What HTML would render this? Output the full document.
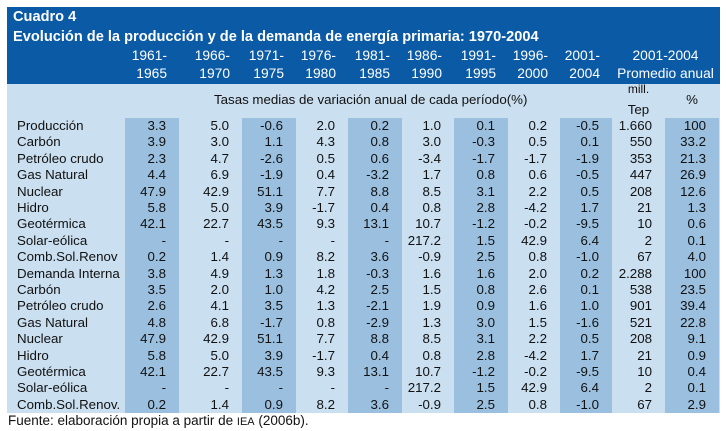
<!DOCTYPE html>
<html><head><meta charset="utf-8">
<style>
body{margin:0;width:726px;height:431px;background:#fff;position:relative;overflow:hidden;font-family:"Liberation Sans",sans-serif;}
.a{position:absolute;}
#hdr{left:7px;top:7px;width:713px;height:77px;background:#0b5aa6;}
#body{left:7px;top:84px;width:713px;height:329px;background:#cadff0;}
.band{position:absolute;top:118px;height:295px;background:#9bc0df;}
.t{position:absolute;color:#fff;font-weight:bold;font-size:14.6px;left:13px;}
.yh{position:absolute;color:#fff;font-size:13.8px;text-align:right;white-space:nowrap;}
.c{position:absolute;font-size:13.3px;color:#111;white-space:nowrap;line-height:16px;}
</style></head><body>
<div id="hdr" class="a"></div>
<div id="body" class="a"></div>
<div class="t" style="top:9px">Cuadro 4</div>
<div class="t" style="top:29px">Evolución de la producción y de la demanda de energía primaria: 1970-2004</div>
<div class="c" style="left:214px;top:92px">Tasas medias de variación anual de cada período(%)</div>
<div class="c" style="left:612px;width:53px;text-align:center;top:81px;font-size:12px">mill.</div>
<div class="c" style="left:612px;width:53px;text-align:center;top:102px">Tep</div>
<div class="c" style="left:665px;width:54px;text-align:center;top:92px">%</div>
<div class="a" id="tbl"></div>
<div class="c" style="left:8px;top:413px;font-size:13.5px">Fuente: elaboración propia a partir de <span style="font-size:11px">IEA</span> (2006b).</div>
<script>
const colEdges=[125,179,242,296,348,402,454,508,560,612,665,719];
const shaded=[0,2,4,6,8,10];
const periodsTop=["1961-","1966-","1971-","1976-","1981-","1986-","1991-","1996-","2001-"];
const periodsBot=["1965","1970","1975","1980","1985","1990","1995","2000","2004"];
const rowLabels=["Producción","Carbón","Petróleo crudo","Gas Natural","Nuclear","Hidro","Geotérmica","Solar-eólica","Comb.Sol.Renov","Demanda Interna","Carbón","Petróleo crudo","Gas Natural","Nuclear","Hidro","Geotérmica","Solar-eólica","Comb.Sol.Renov."];
const values=[
["3.3","5.0","-0.6","2.0","0.2","1.0","0.1","0.2","-0.5","1.660","100"],
["3.9","3.0","1.1","4.3","0.8","3.0","-0.3","0.5","0.1","550","33.2"],
["2.3","4.7","-2.6","0.5","0.6","-3.4","-1.7","-1.7","-1.9","353","21.3"],
["4.4","6.9","-1.9","0.4","-3.2","1.7","0.8","0.6","-0.5","447","26.9"],
["47.9","42.9","51.1","7.7","8.8","8.5","3.1","2.2","0.5","208","12.6"],
["5.8","5.0","3.9","-1.7","0.4","0.8","2.8","-4.2","1.7","21","1.3"],
["42.1","22.7","43.5","9.3","13.1","10.7","-1.2","-0.2","-9.5","10","0.6"],
["-","-","-","-","-","217.2","1.5","42.9","6.4","2","0.1"],
["0.2","1.4","0.9","8.2","3.6","-0.9","2.5","0.8","-1.0","67","4.0"],
["3.8","4.9","1.3","1.8","-0.3","1.6","1.6","2.0","0.2","2.288","100"],
["3.5","2.0","1.0","4.2","2.5","1.5","0.8","2.6","0.1","538","23.5"],
["2.6","4.1","3.5","1.3","-2.1","1.9","0.9","1.6","1.0","901","39.4"],
["4.8","6.8","-1.7","0.8","-2.9","1.3","3.0","1.5","-1.6","521","22.8"],
["47.9","42.9","51.1","7.7","8.8","8.5","3.1","2.2","0.5","208","9.1"],
["5.8","5.0","3.9","-1.7","0.4","0.8","2.8","-4.2","1.7","21","0.9"],
["42.1","22.7","43.5","9.3","13.1","10.7","-1.2","-0.2","-9.5","10","0.4"],
["-","-","-","-","-","217.2","1.5","42.9","6.4","2","0.1"],
["0.2","1.4","0.9","8.2","3.6","-0.9","2.5","0.8","-1.0","67","2.9"]];
const tbl=document.getElementById('tbl');
const rowTop=118,rowH=16.4;
shaded.forEach(i=>{
  const d=document.createElement('div');d.className='band';
  d.style.left=colEdges[i]+'px';d.style.width=(colEdges[i+1]-colEdges[i])+'px';
  
  
  document.body.insertBefore(d,tbl);
});
periodsTop.forEach((p,i)=>{
  [[p,48],[periodsBot[i],66]].forEach(([txt,y])=>{
    const d=document.createElement('div');d.className='yh';
    d.style.left=colEdges[i]+'px';d.style.width=(colEdges[i+1]-colEdges[i]-12)+'px';d.style.top=y+'px';
    d.textContent=txt;
    
    
    document.body.appendChild(d);
  });
});
[["2001-2004",48],["Promedio anual",66]].forEach(([txt,y])=>{
  const d=document.createElement('div');d.className='yh';
  d.style.left='612px';d.style.width='107px';d.style.textAlign='center';d.style.top=y+'px';
  d.textContent=txt;
  
  
  document.body.appendChild(d);
});
rowLabels.forEach((lab,r)=>{
  const y=rowTop+r*rowH;
  const l=document.createElement('div');l.className='c';
  l.style.left='17px';l.style.top=y+'px';l.textContent=lab;
  
  
  document.body.appendChild(l);
  values[r].forEach((v,j)=>{
    const d=document.createElement('div');d.className='c';
    d.style.left=colEdges[j]+'px';d.style.width=(colEdges[j+1]-colEdges[j]-13)+'px';
    d.style.textAlign='right';d.style.top=y+'px';d.textContent=v;
    
    
    document.body.appendChild(d);
  });
});
</script>
</body></html>
